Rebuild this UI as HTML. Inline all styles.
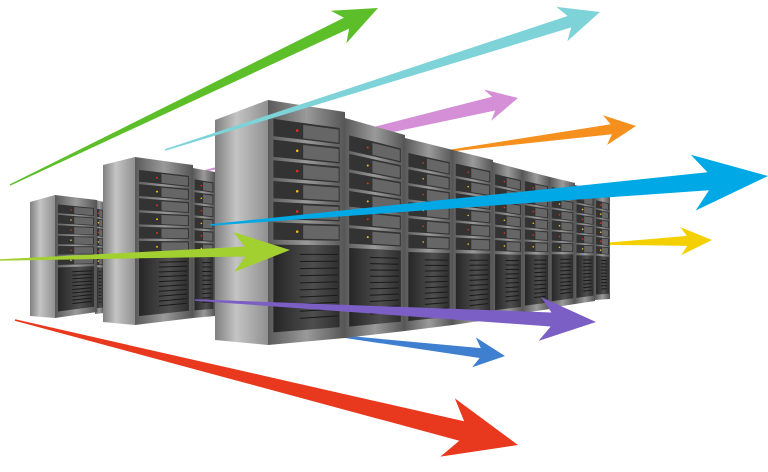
<!DOCTYPE html>
<html><head><meta charset="utf-8"><style>html,body{margin:0;padding:0;background:#fff;width:768px;height:472px;overflow:hidden}</style></head>
<body>
<svg id="s" width="768" height="472" viewBox="0 0 768 472" xmlns="http://www.w3.org/2000/svg">
<defs>
<linearGradient id="side" x1="0" x2="1" y1="0" y2="0"><stop offset="0" stop-color="#808080"/><stop offset="0.4" stop-color="#c4c4c4"/><stop offset="1" stop-color="#909090"/></linearGradient>
<linearGradient id="frame" x1="0" x2="1"><stop offset="0" stop-color="#5a5a5a"/><stop offset="0.5" stop-color="#9a9a9a"/><stop offset="1" stop-color="#555"/></linearGradient>
<linearGradient id="low" x1="0" x2="1"><stop offset="0" stop-color="#262626"/><stop offset="0.6" stop-color="#4e4e4e"/><stop offset="1" stop-color="#2e2e2e"/></linearGradient>
</defs>
<g id="back"></g><g id="racks"></g><g id="front"></g>
</svg>
<script>
var NS="http://www.w3.org/2000/svg";
function el(p,t,a){var e=document.createElementNS(NS,t);for(var k in a)e.setAttribute(k,a[k]);p.appendChild(e);return e;}
function arrow(g,tx,ty,px,py,w,hl,hw,c){
 var dx=px-tx,dy=py-ty,L=Math.hypot(dx,dy),ux=dx/L,uy=dy/L,nx=-uy,ny=ux;
 var bx=px-ux*hl,by=py-uy*hl;
 var pts=[[tx,ty],[bx+nx*w/2,by+ny*w/2],[bx-ux*hl*0.25+nx*hw,by-uy*hl*0.25+ny*hw],[px,py],[bx-ux*hl*0.25-nx*hw,by-uy*hl*0.25-ny*hw],[bx-nx*w/2,by-ny*w/2]];
 pts.splice(0,1,[tx+nx*0.7,ty+ny*0.7]);pts.push([tx-nx*0.7,ty-ny*0.7]);
 el(g,"polygon",{points:pts.map(function(p){return p[0].toFixed(1)+","+p[1].toFixed(1)}).join(" "),fill:c});
}
function quad(g,a,b,c,d,f){el(g,"polygon",{points:[a,b,c,d].map(function(p){return p.join(",")}).join(" "),fill:f});}
function lerp(a,b,t){return a+(b-a)*t;}
function rack(g,x1,x2,t1,t2,b1,b2,side){
 if(side){quad(g,[side[0],side[1]],[x1,t1],[x1,b1],[side[0],side[2]],"url(#side)");}
 quad(g,[x1,t1],[x2,t2],[x2,b2],[x1,b1],"url(#frame)");
 var m=(x2-x1)*0.07, X1=x1+m, X2=x2-m;
 function yAt(x,f){var tt=(x-x1)/(x2-x1);return lerp(lerp(t1,b1,f),lerp(t2,b2,f),tt);}
 var top=0.07, mid=0.58, n=6;
 for(var i=0;i<n;i++){
  var f0=lerp(top,mid,i/n)+0.004,f1=lerp(top,mid,(i+1)/n)-0.01;
  quad(g,[X1,yAt(X1,f0)],[X2,yAt(X2,f0)],[X2,yAt(X2,f1)],[X1,yAt(X1,f1)],"#333");
  var xm=lerp(X1,X2,0.45);
  quad(g,[xm,yAt(xm,f0+0.008)],[X2-1,yAt(X2-1,f0+0.008)],[X2-1,yAt(X2-1,f1-0.006)],[xm,yAt(xm,f1-0.006)],"#666");
  var xl=lerp(X1,X2,0.36);
  el(g,"circle",{cx:xl,cy:yAt(xl,(f0+f1)/2),r:Math.max(0.8,(x2-x1)/60),fill:i%2?"#f0c020":"#e03020"});
 }
 var f0=mid+0.01,f1=0.95;
 quad(g,[X1,yAt(X1,f0)],[X2,yAt(X2,f0)],[X2,yAt(X2,f1)],[X1,yAt(X1,f1)],"url(#low)");
 var xs=lerp(X1,X2,0.4);
 for(var k=0;k<10;k++){var f=lerp(f0+0.04,f1-0.05,k/9);el(g,"line",{x1:xs,y1:yAt(xs,f),x2:X2-2,y2:yAt(X2-2,f),stroke:"#1a1a1a","stroke-width":1});}
}
var back=document.getElementById("back"),R=document.getElementById("racks"),F=document.getElementById("front");
arrow(back,200,172,518,98,14,25,16,"#d48fd6");
arrow(back,440,152,636,126,10,25,15,"#f5901e");
arrow(back,600,244,712,240,10,25,14,"#f5d000");
arrow(back,330,335,505,356,10,25,15,"#3f7fd0");
var row=[[595,610,192,196,300,299],[575,595,185,190,304,301],[550,575,177,183,308,304],[523,550,170,177,313,309],[493,523,162,170,318,314],[453,493,150,160,325,319],[405,453,138,150,331,325],[345,405,118,135,338,331]];
row.forEach(function(r){rack(R,r[0],r[1],r[2],r[3],r[4],r[5]);});
rack(R,95,104,200,202,314,313);
rack(R,55,97,195,200,318,312,[30,202,316]);
rack(R,193,215,168,172,318,316);
rack(R,135,193,157,165,325,318,[103,165,322]);
rack(R,268,345,100,112,345,338,[215,120,340]);
arrow(F,10,185,378,8,12,35,18,"#5cbf2a");
arrow(F,165,150,600,12,12,32,18,"#7dd3d8");
arrow(F,210,225,768,176,18,60,28,"#00a9e6");
arrow(F,0,260,290,250,10,45,20,"#a2d030");
arrow(F,195,300,596,322,14,45,22,"#7b5fc4");
arrow(F,15,320,518,445,20,58,30,"#e8381e");
</script>
</body></html>
